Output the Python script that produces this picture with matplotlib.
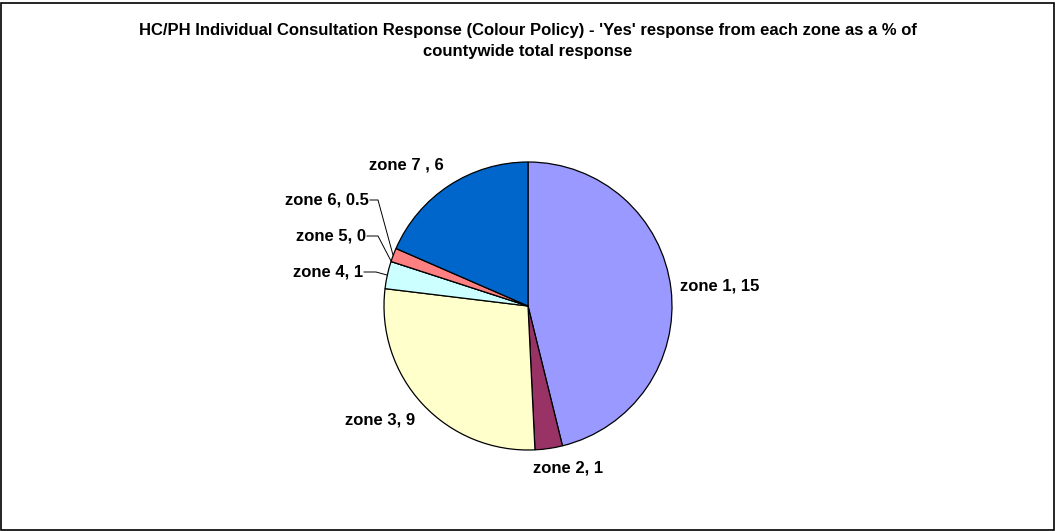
import matplotlib
matplotlib.use("Agg")
import matplotlib.pyplot as plt
from matplotlib.patches import Rectangle

zones = ["zone 1", "zone 2", "zone 3", "zone 4", "zone 5", "zone 6", "zone 7 "]
values = [15, 1, 9, 1, 0, 0.5, 6]
value_labels = ["15", "1", "9", "1", "0", "0.5", "6"]
colors = ["#9999FF", "#993366", "#FFFFCC", "#CCFFFF", "#FFFFFF", "#FF8080", "#0066CC"]
title = ("HC/PH Individual Consultation Response (Colour Policy) - 'Yes' response from each zone as a % of\n"
         "countywide total response")

W, H = 1056, 531
fig = plt.figure(figsize=(W / 100, H / 100), dpi=100)
plt.rcParams['font.family'] = ['Liberation Sans', 'DejaVu Sans']

cx, cy, r = 528, 306, 144
ax = fig.add_axes([(cx - r) / W, (H - cy - r) / H, 2 * r / W, 2 * r / H])
ax.pie(values, colors=colors, startangle=90, counterclock=False,
       wedgeprops=dict(edgecolor="black", linewidth=0.9), radius=1.0)
ax.set_xlim(-1, 1)
ax.set_ylim(-1, 1)
ax.set_aspect("auto")
ax.axis("off")

def fx(px):
    return px / W

def fy(py):
    return 1 - py / H

labels = [f"{z}, {v}" for z, v in zip(zones, value_labels)]
fs = 12
# direct labels (no leader)
direct = {0: (680, 286, "left"), 1: (533, 468, "left"), 2: (345, 420, "left"), 6: (369, 165, "left")}
for i, (px, py, ha) in direct.items():
    fig.text(fx(px), fy(py), labels[i], ha=ha, va="center", fontsize=fs, fontweight="bold")

# leader-line labels
leader = {5: ((370, 200), (378, 200), (393, 255)),
          4: ((367, 236), (378, 236), (391, 261)),
          3: ((364, 272), (376, 272), (387, 275))}
for i, (tp, mid, end) in leader.items():
    fig.text(fx(tp[0] - 1), fy(tp[1]), labels[i], ha="right", va="center", fontsize=fs, fontweight="bold")
    fig.add_artist(plt.Line2D([fx(tp[0]), fx(mid[0]), fx(end[0])],
                              [fy(tp[1]), fy(mid[1]), fy(end[1])],
                              color="black", linewidth=0.7, transform=fig.transFigure))

fig.text(0.5, fy(41), title, ha="center", va="center", fontsize=12, fontweight="bold",
         linespacing=1.55)

fig.add_artist(Rectangle((1 / W, 1 / H), (W - 3) / W, (H - 4) / H, transform=fig.transFigure,
                         fill=False, edgecolor="black", linewidth=1.2))

fig.savefig("out.png", dpi=100)
